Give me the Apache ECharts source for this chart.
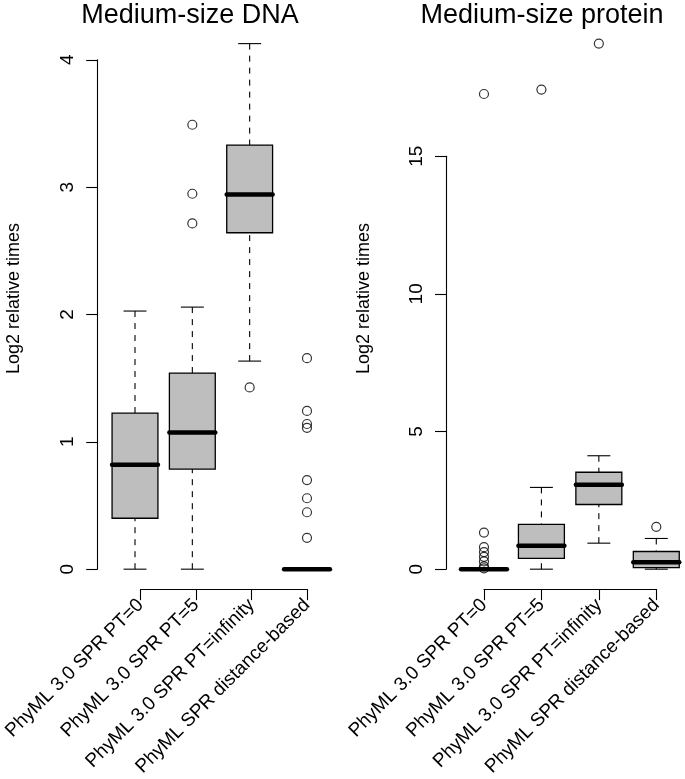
<!DOCTYPE html>
<html>
<head>
<meta charset="utf-8">
<script src="https://cdn.jsdelivr.net/npm/echarts@6/dist/echarts.min.js"></script>
<style>
body { margin: 0; background: #fff; }
#main { width: 685px; height: 779px; }
</style>
</head>
<body>
<div id="main"></div>
<script>
// categories (same for both panels)
var categories = ['PhyML 3.0 SPR PT=0', 'PhyML 3.0 SPR PT=5', 'PhyML 3.0 SPR PT=infinity', 'PhyML SPR distance-based'];

// box stats: [lower whisker, Q1, median, Q3, upper whisker]
var dnaBoxes = [
    [0, 0.40, 0.82, 1.225, 2.027],
    [0, 0.786, 1.073, 1.54, 2.058],
    [1.634, 2.642, 2.943, 3.33, 4.127],
    [0, 0, 0, 0, 0]
];
// outliers: [category index, value]
var dnaOutliers = [
    [1, 2.715], [1, 2.948], [1, 3.49],
    [2, 1.427],
    [3, 1.657], [3, 1.243], [3, 1.14], [3, 1.11], [3, 0.70], [3, 0.557], [3, 0.447], [3, 0.246]
];

var proteinBoxes = [
    [0, 0, 0, 0, 0],
    [0, 0.39, 0.85, 1.625, 2.97],
    [0.945, 2.35, 3.07, 3.52, 4.12],
    [0, 0.06, 0.255, 0.643, 1.115]
];
var proteinOutliers = [
    [0, 17.26], [0, 1.33], [0, 0.80], [0, 0.62], [0, 0.45], [0, 0.28], [0, 0.10], [0, 0.03],
    [1, 17.42],
    [2, 19.09],
    [3, 1.54]
];

// y tick settings
var dnaTickMax = 4, dnaTickStep = 1;
var proteinTickMax = 15, proteinTickStep = 5;

var FONT = '"Liberation Sans", Arial, sans-serif';

// plot region (shared by both panels)
var plotTop = 22.6, plotBottom = 590.2;
var plotH = plotBottom - plotTop;

// R style y range: data range widened 4%
function rRange(boxes, outliers) {
    var vals = [];
    boxes.forEach(function (b) { vals = vals.concat(b); });
    outliers.forEach(function (o) { vals.push(o[1]); });
    var lo = Math.min.apply(null, vals), hi = Math.max.apply(null, vals);
    var pad = (hi - lo) * 0.04;
    return [lo - pad, hi + pad];
}

function renderBox(params, api) {
    var i = api.value(0);
    var pMin = api.coord([i, api.value(1)]);
    var pQ1 = api.coord([i, api.value(2)]);
    var pMed = api.coord([i, api.value(3)]);
    var pQ3 = api.coord([i, api.value(4)]);
    var pMax = api.coord([i, api.value(5)]);
    var band = api.size([1, 0])[0];
    var half = band * 0.4, cap = band * 0.2;
    var cx = pMed[0];
    var thin = { stroke: '#000', lineWidth: 1.1 };
    var dashed = { stroke: '#000', lineWidth: 1.1, lineDash: [6, 6] };
    return {
        type: 'group',
        children: [
            { type: 'line', shape: { x1: cx, y1: pMax[1], x2: cx, y2: pQ3[1] }, style: dashed },
            { type: 'line', shape: { x1: cx, y1: pMin[1], x2: cx, y2: pQ1[1] }, style: dashed },
            { type: 'line', shape: { x1: cx - cap, y1: pMax[1], x2: cx + cap, y2: pMax[1] }, style: thin },
            { type: 'line', shape: { x1: cx - cap, y1: pMin[1], x2: cx + cap, y2: pMin[1] }, style: thin },
            { type: 'rect', shape: { x: cx - half, y: pQ3[1], width: half * 2, height: pQ1[1] - pQ3[1] },
              style: { fill: '#BEBEBE', stroke: '#000', lineWidth: 1.3 } },
            { type: 'line', shape: { x1: cx - half, y1: pMed[1], x2: cx + half, y2: pMed[1] },
              style: { stroke: '#000', lineWidth: 4.5, lineCap: 'round' } }
        ]
    };
}

function panel(k, boxes, outliers, tickMax, tickStep, catLeft, catStep, axisX) {
    var r = rRange(boxes, outliers);
    function py(v) { return plotTop + (r[1] - v) / (r[1] - r[0]) * plotH; }
    var g0 = k * 3;
    var grids = [
        { left: catLeft - catStep / 2, top: plotTop, width: catStep * 4, height: plotH },
        { left: catLeft, top: 500, width: catStep * 3, height: 590.7 - 500 },
        { left: axisX, top: py(tickMax), width: 10, height: py(0) - py(tickMax) }
    ];
    var xAxes = [
        { gridIndex: g0, type: 'category', data: categories, show: false },
        { gridIndex: g0 + 1, type: 'category', data: categories, boundaryGap: false,
          axisLine: { onZero: false, lineStyle: { color: '#000', width: 1.1 } },
          axisTick: { length: 11, interval: 0, lineStyle: { color: '#000', width: 1.1 } },
          axisLabel: { rotate: 45, interval: 0, margin: 13, color: '#000', fontSize: 19, fontFamily: FONT },
          splitLine: { show: false } },
        { gridIndex: g0 + 2, type: 'value', show: false, min: 0, max: 1 }
    ];
    var yAxes = [
        { gridIndex: g0, type: 'value', min: r[0], max: r[1], show: false },
        { gridIndex: g0 + 1, type: 'value', min: 0, max: 1, show: false },
        { gridIndex: g0 + 2, type: 'value', min: 0, max: tickMax, interval: tickStep,
          axisLine: { show: true, onZero: false, lineStyle: { color: '#000', width: 1.1 } },
          axisTick: { show: true, length: 11, lineStyle: { color: '#000', width: 1.1 } },
          axisLabel: { rotate: 90, margin: 20, color: '#000', fontSize: 19, fontFamily: FONT },
          splitLine: { show: false } }
    ];
    var series = [
        { type: 'custom', xAxisIndex: g0, yAxisIndex: g0, renderItem: renderBox,
          data: boxes.map(function (b, i) { return [i].concat(b); }),
          encode: { x: 0, y: [1, 2, 3, 4, 5] }, z: 2, silent: true },
        { type: 'scatter', xAxisIndex: g0, yAxisIndex: g0, data: outliers,
          symbol: 'circle', symbolSize: 9, clip: false, z: 3, silent: true,
          itemStyle: { color: 'rgba(0,0,0,0)', borderColor: '#000', borderWidth: 1.2 } }
    ];
    return { grids: grids, xAxes: xAxes, yAxes: yAxes, series: series };
}

var left = panel(0, dnaBoxes, dnaOutliers, dnaTickMax, dnaTickStep, 135, 57.33, 97.2);
var right = panel(1, proteinBoxes, proteinOutliers, proteinTickMax, proteinTickStep, 484, 57.5, 446);

var chart = echarts.init(document.getElementById('main'));

var option = {
    backgroundColor: '#fff',
    animation: false,
    grid: left.grids.concat(right.grids),
    xAxis: left.xAxes.concat(right.xAxes),
    yAxis: left.yAxes.concat(right.yAxes),
    series: left.series.concat(right.series),
    graphic: [
        { type: 'text', x: 190, y: 16, style: { text: 'Medium-size DNA', font: '27px ' + FONT, fill: '#000', align: 'center', verticalAlign: 'middle' } },
        { type: 'text', x: 542, y: 16, style: { text: 'Medium-size protein', font: '27px ' + FONT, fill: '#000', align: 'center', verticalAlign: 'middle' } },
        { type: 'text', x: 14, y: 298.5, rotation: Math.PI / 2, style: { text: 'Log2 relative times', font: '18px ' + FONT, fill: '#000', align: 'center', verticalAlign: 'middle' } },
        { type: 'text', x: 364, y: 298.5, rotation: Math.PI / 2, style: { text: 'Log2 relative times', font: '18px ' + FONT, fill: '#000', align: 'center', verticalAlign: 'middle' } }
    ]
};

chart.setOption(option);
</script>
</body>
</html>
